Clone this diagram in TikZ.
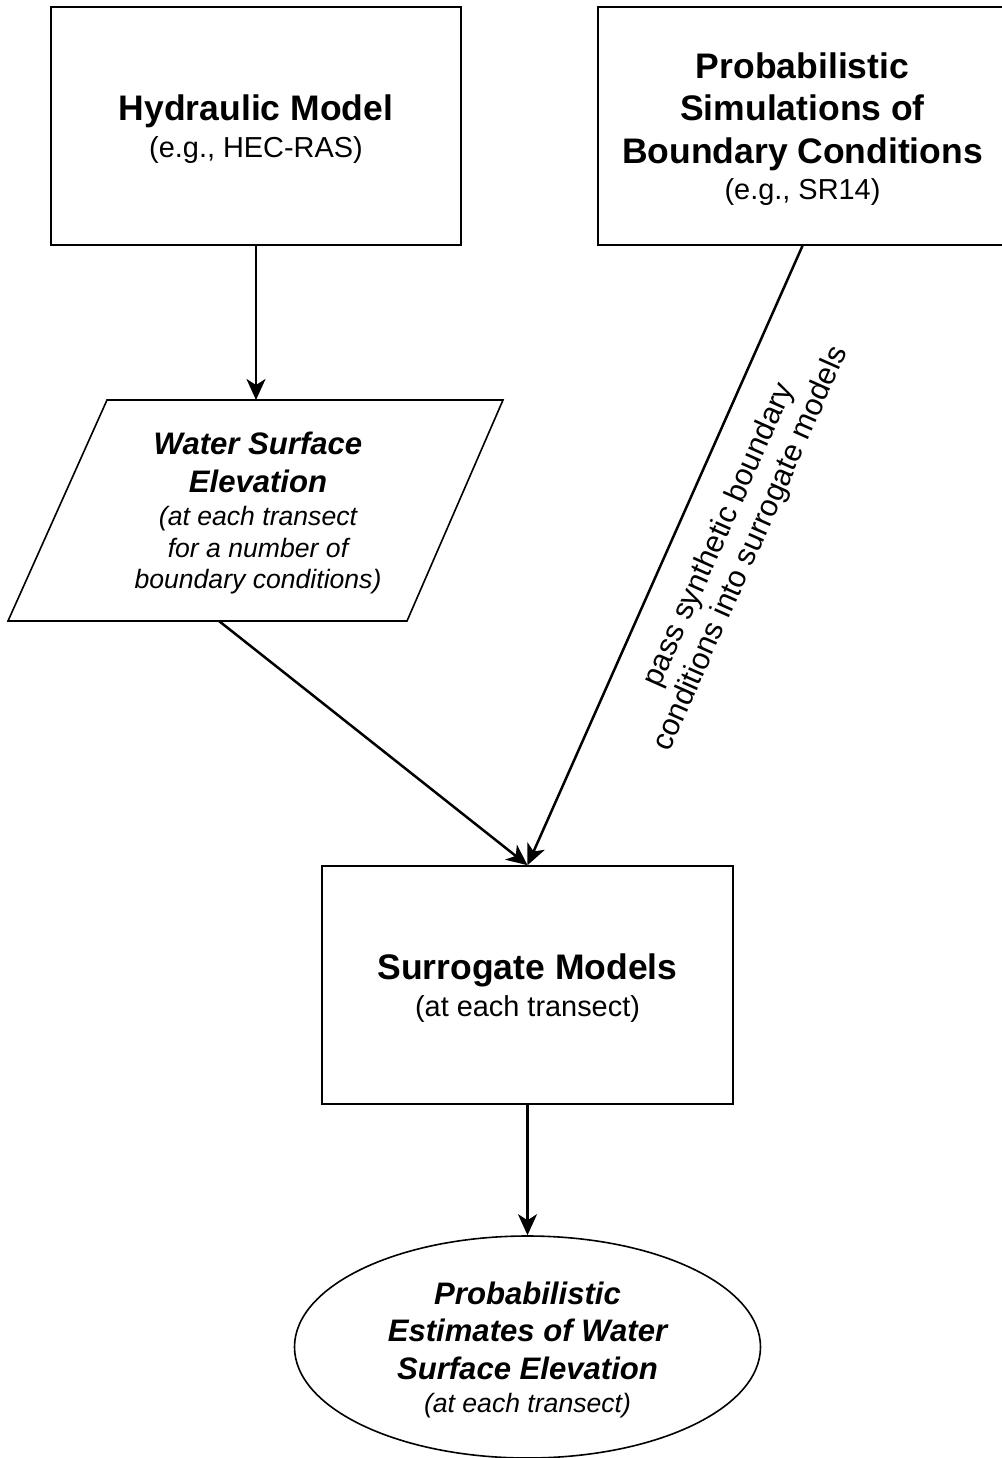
\documentclass[tikz,border=0pt]{standalone}
\usepackage{fontspec}
\setmainfont{Liberation Sans}
\usetikzlibrary{arrows.meta,shapes.geometric}
% one text line with a CSS-like line box (line-height 1.2)
\newcommand\cssln[2]{{\fontsize{#1}{#1}\selectfont\vrule width 0pt height 0.9465\dimexpr#1pt\relax depth 0.2535\dimexpr#1pt\relax #2}}
\begin{document}
\begin{tikzpicture}[x=1pt,y=-1pt,
  box/.style={draw, line width=1.6pt, minimum width=410pt, minimum height=238pt, inner sep=0pt, align=center, font=\offinterlineskip},
  txt/.style={align=center, inner sep=0pt, font=\offinterlineskip},
  conn/.style={line width=2.5pt, -{Stealth[length=21pt,width=19pt,inset=6pt]}},
  shapeline/.style={line width=1.6pt}
]
\useasboundingbox (0,0) rectangle (1001,1458);

% boxes
\node[box] (hyd) at (256,126)
  {\cssln{35.5}{\bfseries Hydraulic Model}\\\cssln{28.9}{(e.g., HEC-RAS)}};
\node[box, minimum width=409pt] (prob) at (802.5,126)
  {\cssln{35.5}{\bfseries Probabilistic}\\\cssln{35.5}{\bfseries Simulations of}\\\cssln{35.5}{\bfseries Boundary Conditions}\\\cssln{28.9}{(e.g., SR14)}};

% parallelogram
\coordinate (ptl) at (107,400);
\coordinate (ptr) at (503,400);
\coordinate (pbr) at (407,621);
\coordinate (pbl) at (8,621);
\coordinate (ptop) at (256,400);
\coordinate (pbot) at (219,621);
\draw[shapeline] (ptl) -- (ptr) -- (pbr) -- (pbl) -- cycle;
\node[txt] (wse) at (258,510.5)
  {\cssln{31.1}{\bfseries\itshape Water Surface}\\\cssln{31.1}{\bfseries\itshape Elevation}\\
   \cssln{26.6}{\itshape (at each transect}\\\cssln{26.6}{\itshape for a number of}\\\cssln{26.6}{\itshape boundary conditions)}};

% surrogate
\node[box, minimum width=411pt] (surr) at (527.5,985)
  {\cssln{35.5}{\bfseries Surrogate Models}\\\cssln{28.9}{(at each transect)}};

% estimates
\node[draw, shapeline, ellipse, minimum width=466pt, minimum height=222pt, inner sep=0pt] (est) at (527.5,1347) {};
\node[txt] (estt) at (527.5,1347)
  {\cssln{31.1}{\bfseries\itshape Probabilistic}\\\cssln{31.1}{\bfseries\itshape Estimates of Water}\\\cssln{31.1}{\bfseries\itshape Surface Elevation}\\\cssln{26.6}{\itshape (at each transect)}};

% connectors
\draw[conn] (hyd.south) -- (ptop);
\draw[conn] (pbot) -- (surr.north);
\draw[conn] (prob.south) -- (surr.north);
\draw[conn] (surr.south) -- (est.north);

% label
\node[txt, rotate=66] (lab) at (733,541)
  {\cssln{30.5}{pass synthetic boundary}\\[-2pt]\cssln{30.5}{conditions into surrogate models}};
\end{tikzpicture}
\end{document}
